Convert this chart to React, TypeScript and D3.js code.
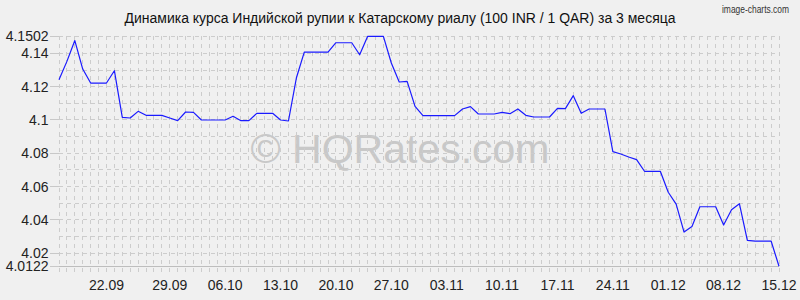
import React from "react";
import * as d3 from "d3";

const title = "Динамика курса Индийской рупии к Катарскому риалу (100 INR / 1 QAR) за 3 месяца";
const brand = "image-charts.com";
const watermark = "© HQRates.com";

// daily rates 15.09 .. 15.12
const rates: number[] = [
  4.1242, 4.1352, 4.1477, 4.1306, 4.1222, 4.1222, 4.1222, 4.1296, 4.1016, 4.1012,
  4.1052, 4.1028, 4.1028, 4.1028, 4.1012, 4.0996, 4.1048, 4.1046, 4.1000, 4.1000,
  4.1000, 4.1000, 4.1022, 4.0996, 4.0996, 4.1040, 4.1040, 4.1040, 4.1000, 4.0994,
  4.1252, 4.1408, 4.1408, 4.1408, 4.1408, 4.1464, 4.1464, 4.1464, 4.1392, 4.1502,
  4.1502, 4.1502, 4.1342, 4.1228, 4.1232, 4.1082, 4.1026, 4.1026, 4.1026, 4.1026,
  4.1026, 4.1066, 4.1080, 4.1036, 4.1036, 4.1036, 4.1046, 4.1038, 4.1066, 4.1028,
  4.1018, 4.1018, 4.1018, 4.1070, 4.1068, 4.1146, 4.1040, 4.1066, 4.1066, 4.1066,
  4.0810, 4.0796, 4.0778, 4.0762, 4.0692, 4.0692, 4.0692, 4.0566, 4.0495, 4.0327,
  4.0361, 4.0479, 4.0479, 4.0479, 4.0369, 4.0461, 4.0497, 4.0277, 4.0273, 4.0273,
  4.0273, 4.0122,
];

const xTickLabels = ["22.09", "29.09", "06.10", "13.10", "20.10", "27.10", "03.11", "10.11", "17.11", "24.11", "01.12", "08.12", "15.12"];
const xTickIndex = [6, 14, 21, 28, 35, 42, 49, 56, 63, 70, 77, 84, 91];

const yTickValues = [4.0122, 4.02, 4.04, 4.06, 4.08, 4.1, 4.12, 4.14, 4.1502];
const yTickLabels = ["4.0122", "4.02", "4.04", "4.06", "4.08", "4.1", "4.12", "4.14", "4.1502"];

const W = 800;
const H = 300;
const FONT = "'Liberation Sans', Arial, sans-serif";

export default function App() {
  const yMin = d3.min(rates) as number;
  const yMax = d3.max(rates) as number;
  const x = d3.scaleLinear().domain([0, rates.length - 1]).range([59, 779]);
  const y = d3.scaleLinear().domain([yMin, yMax]).range([266.2, 36.4]);

  const line = d3
    .line<number>()
    .x((_, i) => x(i))
    .y((d) => y(d));

  const hGrid = d3.range(4.02, 4.1501, 0.01);
  const plotTop = y(yMax);
  const plotBottom = y(yMin);

  return (
    <svg
      width={W}
      height={H}
      style={{ position: "absolute", left: 0, top: 0, background: "#f0f0f0" }}
      fontFamily={FONT}
    >
      <rect x={0} y={0} width={W} height={H} fill="#f0f0f0" />
      <text x={789} y={13} fontSize={10.5} textAnchor="end" fill="#333" textLength={67} lengthAdjust="spacingAndGlyphs">
        {brand}
      </text>
      <text x={400} y={23} fontSize={14} textAnchor="middle" fill="#111" textLength={551} lengthAdjust="spacingAndGlyphs">
        {title}
      </text>

      {/* watermark */}
      <text x={400} y={163} fontSize={41} textAnchor="middle" fill="#c8c8c8">
        {watermark}
      </text>

      {/* vertical grid */}
      {rates.map((_, i) => (
        <line
          key={"v" + i}
          x1={x(i)}
          x2={x(i)}
          y1={plotTop}
          y2={plotBottom + 10}
          stroke="#cccccc"
          strokeWidth={1}
          strokeDasharray="4,4"
          shapeRendering="crispEdges"
        />
      ))}
      {/* horizontal grid */}
      {hGrid.map((v, i) => (
        <line
          key={"h" + i}
          x1={x(0)}
          x2={x(rates.length - 1)}
          y1={y(v)}
          y2={y(v)}
          stroke="#cccccc"
          strokeWidth={1}
          strokeDasharray="4,4"
          shapeRendering="crispEdges"
        />
      ))}
      <line x1={x(0)} x2={x(rates.length - 1)} y1={plotTop} y2={plotTop} stroke="#cccccc" strokeDasharray="4,4" shapeRendering="crispEdges" />
      <line x1={x(0)} x2={x(rates.length - 1)} y1={plotBottom} y2={plotBottom} stroke="#bdbdbd" shapeRendering="crispEdges" />

      {/* y ticks */}
      {yTickValues.map((v, i) => (
        <g key={"yt" + i}>
          <line x1={50} x2={x(0)} y1={y(v)} y2={y(v)} stroke="#c8c8c8" shapeRendering="crispEdges" />
          <text x={48.5} y={y(v)} dy="0.36em" fontSize={14} textAnchor="end" fill="#222">
            {yTickLabels[i]}
          </text>
        </g>
      ))}

      {/* x labels */}
      {xTickLabels.map((t, i) => (
        <text key={"xt" + i} x={x(xTickIndex[i])} y={290} fontSize={14} textAnchor="middle" fill="#222">
          {t}
        </text>
      ))}

      <path d={line(rates) || ""} fill="none" stroke="#1a1aff" strokeWidth={1.2} strokeLinejoin="round" />
    </svg>
  );
}
